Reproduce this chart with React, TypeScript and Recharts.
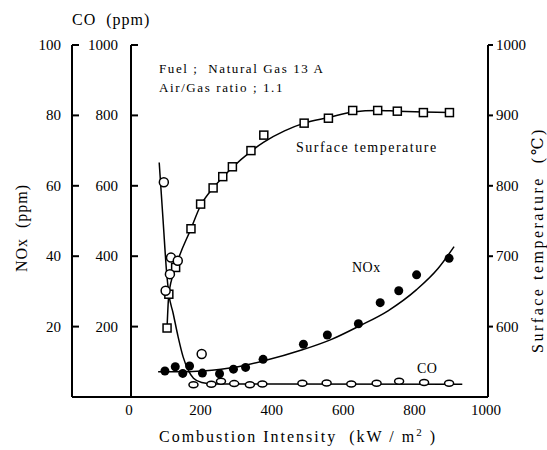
import React from 'react';
import { ComposedChart, XAxis, YAxis, Line, Scatter } from 'recharts';

// ---- ticks ----
const xTicks = [0, 200, 400, 600, 800, 1000];
const noxTicks = [0, 20, 40, 60, 80, 100];
const coTicks = [200, 400, 600, 800, 1000];
const tempTicks = [600, 700, 800, 900, 1000];

// ---- surface temperature (°C), measured squares ----
const tempX = [101, 106, 125, 168, 195, 230, 257, 284, 336, 372, 485, 553, 621, 691, 746, 819, 892];
const tempVal = [598, 646, 684, 739, 774, 797, 813, 827, 850, 872, 889, 896, 907, 907, 906, 904, 904];
// fitted curve
const tempFitX = [101, 106, 125, 168, 195, 230, 257, 284, 336, 372, 430, 485, 553, 621, 691, 746, 819, 892];
const tempFitVal = [598, 646, 684, 739, 772, 797, 812, 826, 849, 862, 878, 889, 897, 905, 907, 906, 905, 904];

// ---- NOx (ppm), filled circles ----
const noxX = [95, 124, 145, 164, 200, 248, 287, 321, 370, 483, 550, 637, 698, 750, 800, 891];
const noxVal = [7.4, 8.6, 6.7, 8.8, 6.8, 6.6, 7.9, 8.4, 10.7, 15.0, 17.6, 20.8, 26.8, 30.2, 34.7, 39.4];
const noxFitX = [76, 150, 200, 300, 370, 480, 560, 640, 720, 800, 860, 905];
const noxFitVal = [7.2, 7.2, 7.4, 8.6, 10.2, 13.4, 16.3, 20.2, 24.5, 30.5, 36.5, 42.7];

// ---- CO (ppm), open circles ----
const coX = [92, 97, 109, 112, 131, 198, 175, 225, 252, 289, 333, 368, 480, 548, 617, 688, 751, 821, 891];
const coVal = [610, 302, 349, 396, 387, 122, 35, 36, 45, 38, 35, 37, 39, 40, 37, 39, 45, 41, 39];
const coFitX = [79, 90, 100, 106, 118, 132, 146, 160, 175, 198, 230, 400, 928];
const coFitVal = [666, 500, 351, 293, 238, 171, 114, 77, 53, 41, 37, 37, 36];

const zip = (xs: number[], ys: number[]) => xs.map((x, i) => ({ x, y: ys[i] }));

const tempData = zip(tempX, tempVal);
const tempFit = zip(tempFitX, tempFitVal);
const noxData = zip(noxX, noxVal);
const noxFit = zip(noxFitX, noxFitVal);
const coData = zip(coX, coVal);
const coFit = zip(coFitX, coFitVal);

const FONT = "'Liberation Serif', 'DejaVu Serif', serif";

const SquareShape = (props: any) => {
  const { cx, cy } = props;
  return <rect x={cx - 4} y={cy - 4} width={8} height={8} fill="#fff" stroke="#000" strokeWidth={1.5} />;
};
const FilledDot = (props: any) => {
  const { cx, cy } = props;
  return <circle cx={cx} cy={cy} r={4.5} fill="#000" />;
};
const OpenDot = (props: any) => {
  const { cx, cy, payload } = props;
  const flat = payload && payload.y < 60;
  return (
    <ellipse cx={cx} cy={cy} rx={4.5} ry={flat ? 3 : 4.5} fill="#fff" stroke="#000" strokeWidth={1.5} />
  );
};

const NoxTick = (props: any) => {
  const { x, y, payload } = props;
  if (payload.value === 0) {
    return <line x1={x} y1={y} x2={x + 60} y2={y} stroke="#000" strokeWidth={2} />;
  }
  return (
    <g>
      <line x1={x} y1={y} x2={x + 7} y2={y} stroke="#000" strokeWidth={2} />
      <text x={x - 11} y={y} dy={5} textAnchor="end" fontSize={15} fill="#000" fontFamily={FONT}>
        {payload.value}
      </text>
    </g>
  );
};

const CoTick = (props: any) => {
  const { x, y, payload } = props;
  return (
    <g>
      <line x1={x} y1={y} x2={x + 7} y2={y} stroke="#000" strokeWidth={2} />
      <text x={x - 13} y={y} dy={5} textAnchor="end" fontSize={15} fill="#000" fontFamily={FONT}>
        {payload.value}
      </text>
    </g>
  );
};

const TempTick = (props: any) => {
  const { x, y, payload } = props;
  return (
    <g>
      <line x1={x} y1={y} x2={x + 5} y2={y} stroke="#000" strokeWidth={2} />
      <text x={x + 8} y={y} dy={5} textAnchor="start" fontSize={15} fill="#000" fontFamily={FONT}>
        {payload.value}
      </text>
    </g>
  );
};

const XTick = (props: any) => {
  const { x, y, payload } = props;
  return (
    <text x={x - 2} y={y} dy={18} textAnchor="middle" fontSize={15} fill="#000" fontFamily={FONT}>
      {payload.value}
    </text>
  );
};

const axisLine = { stroke: '#000', strokeWidth: 2 };

export default function App() {
  return (
    <div style={{ position: 'absolute', left: 0, top: 0, width: 547, height: 450, background: '#fff' }}>
      <ComposedChart width={547} height={450} margin={{ top: 45, right: 0, bottom: 0, left: 0 }}>
        <XAxis
          xAxisId={0}
          type="number"
          dataKey="x"
          domain={[0, 1000]}
          ticks={xTicks}
          allowDataOverflow
          height={53}
          axisLine={axisLine}
          tickLine={false}
          tickSize={0}
          tickMargin={0}
          tick={<XTick />}
        />
        <XAxis
          xAxisId="top"
          orientation="top"
          type="number"
          dataKey="x"
          domain={[0, 1000]}
          allowDataOverflow
          height={0}
          axisLine={axisLine}
          tickLine={false}
          tick={false}
        />
        <YAxis
          yAxisId="co"
          orientation="left"
          type="number"
          dataKey="y"
          domain={[0, 1000]}
          ticks={coTicks}
          allowDataOverflow
          width={59}
          axisLine={axisLine}
          tickLine={false}
          tickSize={0}
          tickMargin={0}
          tick={<CoTick />}
          interval={0}
        />
        <YAxis
          yAxisId="nox"
          orientation="left"
          type="number"
          dataKey="y"
          domain={[0, 100]}
          ticks={noxTicks}
          allowDataOverflow
          width={72}
          axisLine={axisLine}
          tickLine={false}
          tickSize={0}
          tickMargin={0}
          tick={<NoxTick />}
          interval={0}
        />
        <YAxis
          yAxisId="temp"
          orientation="right"
          type="number"
          dataKey="y"
          domain={[500, 1000]}
          ticks={tempTicks}
          allowDataOverflow
          width={59}
          axisLine={axisLine}
          tickLine={false}
          tickSize={0}
          tickMargin={0}
          tick={<TempTick />}
          interval={0}
        />

        <Line data={tempFit} yAxisId="temp" dataKey="y" type="monotone" stroke="#000" strokeWidth={1.5} dot={false} activeDot={false} isAnimationActive={false} />
        <Line data={noxFit} yAxisId="nox" dataKey="y" type="monotone" stroke="#000" strokeWidth={1.5} dot={false} activeDot={false} isAnimationActive={false} />
        <Line data={coFit} yAxisId="co" dataKey="y" type="monotone" stroke="#000" strokeWidth={1.5} dot={false} activeDot={false} isAnimationActive={false} />

        <Scatter data={tempData} yAxisId="temp" dataKey="y" shape={<SquareShape />} isAnimationActive={false} />
        <Scatter data={noxData} yAxisId="nox" dataKey="y" shape={<FilledDot />} isAnimationActive={false} />
        <Scatter data={coData} yAxisId="co" dataKey="y" shape={<OpenDot />} isAnimationActive={false} />

        <g fontFamily={FONT} fill="#000">
          <text x={72} y={25} fontSize={16} letterSpacing={1} xmlSpace="preserve">{'CO  (ppm)'}</text>
          <text x={0} y={0} fontSize={16} letterSpacing={1} textAnchor="middle" transform="translate(27,228) rotate(-90)" xmlSpace="preserve">{'NOx  (ppm)'}</text>
          <text x={0} y={0} fontSize={16} letterSpacing={2.5} textAnchor="middle" transform="translate(543,240) rotate(-90)" xmlSpace="preserve">{'Surface temperature  (℃)'}</text>
          <text x={298} y={442} fontSize={16} letterSpacing={2} textAnchor="middle" xmlSpace="preserve">
            {'Combustion Intensity  (kW / m'}
            <tspan fontSize={11} dy={-6}>2</tspan>
            <tspan dy={6}>{' )'}</tspan>
          </text>
          <text x={159} y={73} fontSize={13} letterSpacing={1.6} xmlSpace="preserve">{'Fuel ;  Natural Gas 13 A'}</text>
          <text x={159} y={92} fontSize={13} letterSpacing={1.6} xmlSpace="preserve">{'Air/Gas ratio ; 1.1'}</text>
          <text x={296} y={152} fontSize={14} letterSpacing={1.5} xmlSpace="preserve">{'Surface temperature'}</text>
          <text x={352} y={272} fontSize={14} letterSpacing={0.5}>NOx</text>
          <text x={417} y={373} fontSize={14} letterSpacing={0.5}>CO</text>
        </g>
      </ComposedChart>
    </div>
  );
}
